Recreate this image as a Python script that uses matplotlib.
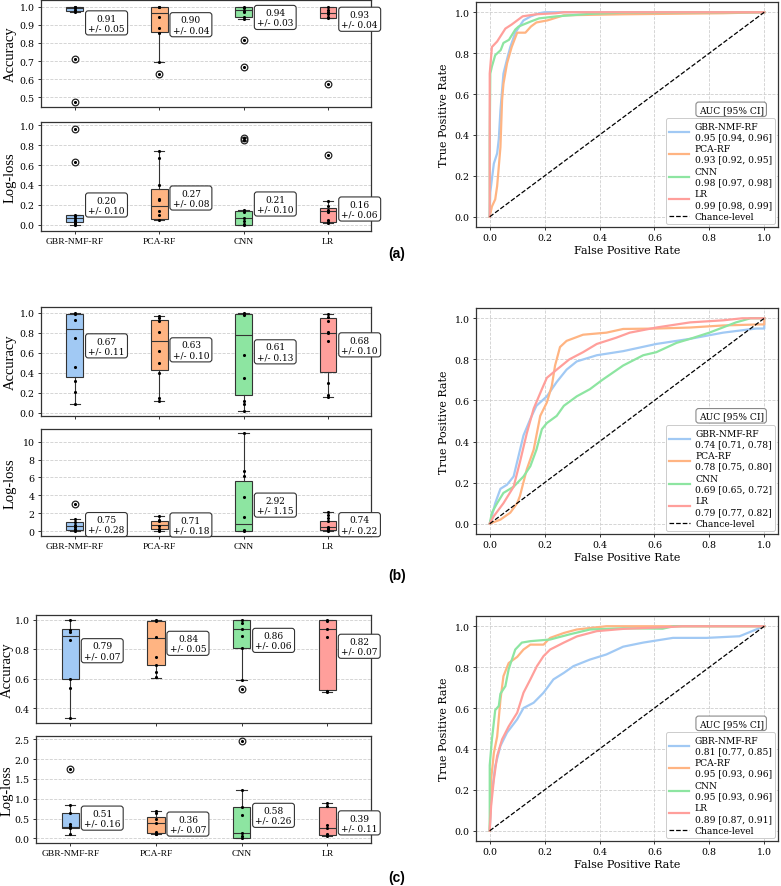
import matplotlib
matplotlib.use('Agg')
import matplotlib.pyplot as plt
from matplotlib.lines import Line2D
from matplotlib.transforms import blended_transform_factory

plt.rcParams['font.family'] = 'DejaVu Serif'

models = ['GBR-NMF-RF', 'PCA-RF', 'CNN', 'LR']
colors = ['#a1c9f4', '#ffb482', '#8de5a1', '#ff9f9b']
tags = ['(a)', '(b)', '(c)']

# box stats per model: (whislo, q1, med, q3, whishi)
acc_a_box = [(0.97, 0.975, 0.99, 1.0, 1.0), (0.697, 0.86, 0.967, 0.997, 1.0),
             (0.933, 0.94, 0.98, 0.995, 1.0), (0.935, 0.937, 0.964, 1.0, 1.0)]
acc_a_fliers = [[0.71, 0.475], [0.628], [0.818, 0.667], [0.571]]
acc_a_pts = [[1.0, 1.0, 0.99, 0.98, 0.97], [1.0, 0.995, 0.945, 0.88, 0.855, 0.697],
             [1.0, 0.99, 0.975, 0.97, 0.94, 0.933], [1.0, 0.98, 0.97, 0.96, 0.94, 0.935]]
acc_a_mean = [0.91, 0.90, 0.94, 0.93]
acc_a_sd = [0.05, 0.04, 0.03, 0.04]

loss_a_box = [(0.0, 0.03, 0.066, 0.105, 0.105), (0.05, 0.063, 0.195, 0.364, 0.745),
              (0.0, 0.0, 0.066, 0.139, 0.15), (0.023, 0.03, 0.136, 0.172, 0.242)]
loss_a_fliers = [[0.96, 0.63], [], [0.875, 0.855], [0.70]]
loss_a_pts = [[0.105, 0.09, 0.07, 0.05, 0.04, 0.02, 0.01, 0.0],
              [0.745, 0.67, 0.40, 0.26, 0.25, 0.14, 0.10, 0.05],
              [0.15, 0.13, 0.07, 0.04, 0.01, 0.0],
              [0.242, 0.19, 0.15, 0.13, 0.05, 0.03, 0.023]]
loss_a_mean = [0.20, 0.27, 0.21, 0.16]
loss_a_sd = [0.10, 0.08, 0.10, 0.06]

acc_b_box = [(0.09, 0.354, 0.842, 0.987, 1.0), (0.114, 0.424, 0.714, 0.933, 0.97),
             (0.017, 0.175, 0.78, 0.99, 1.0), (0.158, 0.404, 0.80, 0.95, 0.987)]
acc_b_fliers = [[], [], [], []]
acc_b_pts = [[1.0, 0.99, 0.93, 0.745, 0.46, 0.32, 0.21, 0.09],
             [0.97, 0.95, 0.92, 0.81, 0.62, 0.50, 0.40, 0.15, 0.114],
             [1.0, 0.98, 0.58, 0.345, 0.12, 0.09, 0.017],
             [0.987, 0.96, 0.92, 0.81, 0.80, 0.72, 0.30, 0.18, 0.158]]
acc_b_mean = [0.67, 0.63, 0.61, 0.68]
acc_b_sd = [0.11, 0.10, 0.13, 0.10]

loss_b_box = [(0.04, 0.19, 0.56, 1.04, 1.33), (0.04, 0.22, 0.67, 1.15, 1.67),
              (0.0, 0.0, 0.78, 5.59, 10.9), (0.04, 0.19, 0.45, 1.15, 2.2)]
loss_b_fliers = [[3.1], [], [], []]
loss_b_pts = [[1.33, 1.0, 0.7, 0.5, 0.3, 0.2, 0.04],
              [1.67, 1.3, 1.1, 0.6, 0.3, 0.1, 0.04],
              [10.9, 6.7, 6.2, 3.8, 1.6, 0.1, 0.0],
              [2.2, 1.8, 1.5, 1.1, 0.5, 0.4, 0.3, 0.1, 0.04]]
loss_b_mean = [0.75, 0.71, 2.92, 0.74]
loss_b_sd = [0.28, 0.18, 1.15, 0.22]

acc_c_box = [(0.337, 0.596, 0.887, 0.935, 1.0), (0.607, 0.69, 0.876, 0.993, 1.0),
             (0.59, 0.81, 0.937, 0.995, 1.0), (0.508, 0.522, 0.937, 0.995, 1.0)]
acc_c_fliers = [[], [], [0.53], []]
acc_c_pts = [[1.0, 0.93, 0.92, 0.86, 0.60, 0.535, 0.337],
             [1.0, 0.99, 0.88, 0.75, 0.69, 0.645, 0.61],
             [1.0, 0.98, 0.94, 0.89, 0.81, 0.59],
             [1.0, 0.99, 0.94, 0.885, 0.52, 0.51]]
acc_c_mean = [0.79, 0.84, 0.86, 0.82]
acc_c_sd = [0.07, 0.05, 0.06, 0.07]

loss_c_box = [(0.09, 0.25, 0.275, 0.65, 0.85), (0.11, 0.14, 0.39, 0.55, 0.69),
              (0.0, 0.0, 0.125, 0.78, 1.22), (0.07, 0.09, 0.26, 0.79, 0.90)]
loss_c_fliers = [[1.75], [], [2.45], []]
loss_c_pts = [[0.85, 0.65, 0.35, 0.30, 0.25, 0.10],
              [0.69, 0.65, 0.48, 0.38, 0.15, 0.12, 0.11],
              [1.22, 0.80, 0.59, 0.13, 0.05, 0.0],
              [0.90, 0.82, 0.33, 0.27, 0.10, 0.07]]
loss_c_mean = [0.51, 0.36, 0.58, 0.39]
loss_c_sd = [0.16, 0.07, 0.26, 0.11]

# ROC curves, (fpr, tpr) points
roc_a_gbr = [(0, 0), (0.002, 0.12), (0.015, 0.26), (0.027, 0.31), (0.033, 0.38), (0.039, 0.52),
             (0.05, 0.70), (0.063, 0.77), (0.075, 0.83), (0.093, 0.90), (0.123, 0.96),
             (0.15, 0.98), (0.18, 0.995), (0.2, 1.0), (1, 1)]
roc_a_pca = [(0, 0), (0.008, 0.05), (0.02, 0.085), (0.027, 0.15), (0.039, 0.34), (0.045, 0.57),
             (0.05, 0.65), (0.063, 0.75), (0.08, 0.83), (0.10, 0.90), (0.13, 0.90), (0.15, 0.93),
             (0.17, 0.95), (0.21, 0.96), (0.27, 0.985), (0.49, 0.99), (0.85, 0.995), (1, 1)]
roc_a_cnn = [(0, 0), (0, 0.38), (0.002, 0.70), (0.008, 0.735), (0.02, 0.79), (0.04, 0.815),
             (0.05, 0.85), (0.07, 0.865), (0.093, 0.915), (0.105, 0.93), (0.15, 0.955),
             (0.18, 0.97), (0.245, 0.98), (0.365, 0.992), (0.49, 0.998), (1, 1)]
roc_a_lr = [(0, 0), (0, 0.70), (0.008, 0.83), (0.027, 0.857), (0.057, 0.92), (0.08, 0.94),
            (0.11, 0.97), (0.12, 0.98), (0.17, 0.99), (0.24, 0.995), (0.27, 1.0), (1, 1)]

roc_b_gbr = [(0, 0), (0.008, 0.037), (0.02, 0.10), (0.039, 0.17), (0.063, 0.19), (0.087, 0.23),
             (0.105, 0.33), (0.123, 0.43), (0.148, 0.51), (0.17, 0.574), (0.208, 0.62),
             (0.244, 0.69), (0.28, 0.75), (0.317, 0.79), (0.39, 0.82), (0.486, 0.84),
             (0.607, 0.875), (0.73, 0.90), (0.85, 0.93), (0.97, 0.95), (1.0, 0.95), (1, 1)]
roc_b_pca = [(0, 0), (0.039, 0.02), (0.075, 0.054), (0.10, 0.10), (0.11, 0.135), (0.135, 0.265),
             (0.16, 0.36), (0.184, 0.525), (0.208, 0.59), (0.226, 0.67), (0.238, 0.77),
             (0.256, 0.86), (0.28, 0.89), (0.34, 0.92), (0.425, 0.93), (0.486, 0.948),
             (0.607, 0.95), (0.73, 0.955), (0.85, 0.965), (0.98, 0.97), (1.0, 0.97), (1, 1)]
roc_b_cnn = [(0, 0), (0.008, 0.054), (0.027, 0.10), (0.05, 0.15), (0.087, 0.18), (0.123, 0.23),
             (0.148, 0.28), (0.17, 0.36), (0.19, 0.46), (0.208, 0.49), (0.244, 0.525),
             (0.27, 0.574), (0.317, 0.62), (0.365, 0.655), (0.41, 0.70), (0.486, 0.77),
             (0.559, 0.82), (0.607, 0.835), (0.68, 0.88), (0.73, 0.90), (0.80, 0.93),
             (0.897, 0.98), (0.95, 1.0), (1, 1)]
roc_b_lr = [(0, 0), (0.015, 0.037), (0.05, 0.10), (0.087, 0.18), (0.11, 0.30), (0.135, 0.44),
            (0.16, 0.56), (0.19, 0.655), (0.208, 0.71), (0.244, 0.75), (0.29, 0.80),
            (0.34, 0.835), (0.39, 0.875), (0.46, 0.905), (0.51, 0.93), (0.607, 0.955),
            (0.73, 0.98), (0.85, 0.99), (0.92, 1.0), (1, 1)]

roc_c_gbr = [(0, 0), (0.005, 0.154), (0.02, 0.317), (0.039, 0.415), (0.063, 0.48), (0.1, 0.545),
             (0.123, 0.60), (0.16, 0.626), (0.196, 0.675), (0.232, 0.74), (0.27, 0.772),
             (0.305, 0.805), (0.365, 0.837), (0.425, 0.862), (0.486, 0.90), (0.559, 0.92),
             (0.667, 0.943), (0.79, 0.943), (0.91, 0.951), (0.97, 0.984), (1, 1)]
roc_c_pca = [(0, 0), (0.005, 0.25), (0.015, 0.38), (0.027, 0.46), (0.039, 0.64), (0.05, 0.756),
             (0.069, 0.82), (0.1, 0.85), (0.123, 0.886), (0.148, 0.91), (0.196, 0.91),
             (0.22, 0.943), (0.27, 0.967), (0.317, 0.984), (0.425, 1.0), (1, 1)]
roc_c_cnn = [(0, 0), (0, 0.32), (0.008, 0.447), (0.02, 0.59), (0.033, 0.61), (0.039, 0.67),
             (0.057, 0.707), (0.069, 0.79), (0.093, 0.886), (0.117, 0.92), (0.148, 0.927),
             (0.22, 0.935), (0.29, 0.96), (0.365, 0.984), (0.486, 0.99), (0.63, 0.988),
             (0.67, 1.0), (1, 1)]
roc_c_lr = [(0, 0), (0.005, 0.12), (0.015, 0.25), (0.027, 0.366), (0.045, 0.447), (0.069, 0.51),
            (0.1, 0.577), (0.123, 0.675), (0.148, 0.74), (0.172, 0.805), (0.196, 0.854),
            (0.22, 0.886), (0.27, 0.92), (0.317, 0.95), (0.39, 0.976), (0.486, 0.987),
            (0.667, 0.997), (0.7, 1.0), (1, 1)]

auc_a = ['0.95 [0.94, 0.96]', '0.93 [0.92, 0.95]', '0.98 [0.97, 0.98]', '0.99 [0.98, 0.99]']
auc_b = ['0.74 [0.71, 0.78]', '0.78 [0.75, 0.80]', '0.69 [0.65, 0.72]', '0.79 [0.77, 0.82]']
auc_c = ['0.81 [0.77, 0.85]', '0.95 [0.93, 0.96]', '0.95 [0.93, 0.96]', '0.89 [0.87, 0.91]']

# layout in pixels (figure 781 x 887)
W, H = 781, 887
box_left = [41, 41, 36]
box_right = 371
ylab_x = [17, 17, 14]
acc_top, acc_bot = [1, 308, 616], [108, 417, 724]
loss_top, loss_bot = [123, 430, 737], [232, 537, 844]
roc_left, roc_right = 476, 778
roc_top, roc_bot = [3, 309, 617], [228, 535, 842]
tag_y = [254, 576, 878]

acc_lim = [(0.447, 1.036), (-0.034, 1.06), (0.30, 1.032)]
acc_ticks = [[0.5, 0.6, 0.7, 0.8, 0.9, 1.0], [0, 0.2, 0.4, 0.6, 0.8, 1.0], [0.4, 0.6, 0.8, 1.0]]
loss_lim = [(-0.06, 1.03), (-0.52, 11.4), (-0.117, 2.58)]
loss_ticks = [[0, 0.2, 0.4, 0.6, 0.8, 1.0], [0, 2, 4, 6, 8, 10], [0, 0.5, 1.0, 1.5, 2.0, 2.5]]

EDGE = '#333333'
GRID = '#cfcfcf'


def px_axes(fig, l, r, t, b):
    return fig.add_axes([l / W, 1 - b / H, (r - l) / W, (b - t) / H])


def style(ax):
    for s in ax.spines.values():
        s.set_color(EDGE)
        s.set_linewidth(0.9)
    ax.tick_params(labelsize=6.8, length=2.5, width=0.7, color=EDGE, pad=2)
    ax.set_axisbelow(True)


def box_panel(ax, box, fliers, pts, mean, sd, ylim, yticks, ylabel, show_names, lab_x):
    stats = [dict(whislo=b[0], q1=b[1], med=b[2], q3=b[3], whishi=b[4], fliers=f)
             for b, f in zip(box, fliers)]
    res = ax.bxp(stats, positions=range(4), widths=0.2, patch_artist=True, capwidths=0.12,
                 boxprops=dict(edgecolor=EDGE, linewidth=0.8),
                 medianprops=dict(color=EDGE, linewidth=0.8),
                 whiskerprops=dict(color=EDGE, linewidth=0.8),
                 capprops=dict(color=EDGE, linewidth=0.8),
                 flierprops=dict(marker='o', mfc='none', mec='#222222', ms=4.8, mew=0.9))
    for patch, c in zip(res['boxes'], colors):
        patch.set_facecolor(c)
    for i in range(4):
        vals = pts[i] + fliers[i]
        ax.scatter([i] * len(vals), vals, s=5, c='k', zorder=3, linewidths=0)
        ax.text(i + 0.16, mean[i], f'{mean[i]:.2f}\n+/- {sd[i]:.2f}', ha='left', va='center',
                multialignment='center', fontsize=6.5, zorder=4, linespacing=1.1,
                bbox=dict(boxstyle='round,pad=0.3', fc='white', ec=EDGE, lw=0.8))
    ax.set_xlim(-0.40, 3.51)
    ax.set_ylim(*ylim)
    ax.set_yticks(yticks)
    ax.yaxis.grid(True, ls='--', color=GRID, lw=0.6)
    ax.set_xticks(range(4))
    if show_names:
        ax.set_xticklabels(models, family='Liberation Serif', fontsize=7)
    else:
        ax.set_xticklabels([])
    ax.set_ylabel(ylabel, family='Liberation Serif', fontsize=10.5)
    trans = blended_transform_factory(ax.figure.transFigure, ax.transAxes)
    ax.yaxis.set_label_coords(lab_x / W, 0.5, transform=trans)
    style(ax)


def roc_panel(ax, curves, aucs):
    handles = []
    for pts, c, name, auc in zip(curves, colors, models, aucs):
        ax.plot([p[0] for p in pts], [p[1] for p in pts], color=c, lw=1.6)
        handles.append(Line2D([], [], color=c, lw=1.6, label=f'{name}\n{auc}'))
    ax.plot([0, 1], [0, 1], 'k--', lw=0.9)
    handles.append(Line2D([], [], color='k', ls='--', lw=0.9, label='Chance-level'))
    ax.set_xlim(-0.05, 1.05)
    ax.set_ylim(-0.05, 1.05)
    ticks = [0, 0.2, 0.4, 0.6, 0.8, 1.0]
    ax.set_xticks(ticks)
    ax.set_yticks(ticks)
    ax.grid(True, ls='--', color=GRID, lw=0.6)
    ax.set_xlabel('False Positive Rate', fontsize=8, labelpad=2)
    ax.set_ylabel('True Positive Rate', fontsize=8, labelpad=4)
    leg = ax.legend(handles=handles, loc='lower right', fontsize=6.6, handlelength=2.2,
                    labelspacing=0.35, borderpad=0.35, handletextpad=0.6,
                    borderaxespad=0.3, fancybox=True, framealpha=1)
    leg.get_frame().set_edgecolor('#cccccc')
    leg.get_frame().set_linewidth(0.7)
    ax.text(0.845, 0.523, 'AUC [95% CI]', transform=ax.transAxes, ha='center', va='center',
            fontsize=6.6, bbox=dict(boxstyle='round,pad=0.3', fc='white', ec='#8a8a8a', lw=0.8))
    style(ax)


fig = plt.figure(figsize=(W / 100, H / 100), dpi=100)

acc_sets = [(acc_a_box, acc_a_fliers, acc_a_pts, acc_a_mean, acc_a_sd),
            (acc_b_box, acc_b_fliers, acc_b_pts, acc_b_mean, acc_b_sd),
            (acc_c_box, acc_c_fliers, acc_c_pts, acc_c_mean, acc_c_sd)]
loss_sets = [(loss_a_box, loss_a_fliers, loss_a_pts, loss_a_mean, loss_a_sd),
             (loss_b_box, loss_b_fliers, loss_b_pts, loss_b_mean, loss_b_sd),
             (loss_c_box, loss_c_fliers, loss_c_pts, loss_c_mean, loss_c_sd)]
roc_sets = [[roc_a_gbr, roc_a_pca, roc_a_cnn, roc_a_lr],
            [roc_b_gbr, roc_b_pca, roc_b_cnn, roc_b_lr],
            [roc_c_gbr, roc_c_pca, roc_c_cnn, roc_c_lr]]
auc_sets = [auc_a, auc_b, auc_c]

for r in range(3):
    ax1 = px_axes(fig, box_left[r], box_right, acc_top[r], acc_bot[r])
    box_panel(ax1, *acc_sets[r], acc_lim[r], acc_ticks[r], 'Accuracy', False, ylab_x[r])
    ax2 = px_axes(fig, box_left[r], box_right, loss_top[r], loss_bot[r])
    box_panel(ax2, *loss_sets[r], loss_lim[r], loss_ticks[r], 'Log-loss', True, ylab_x[r])
    ax3 = px_axes(fig, roc_left, roc_right, roc_top[r], roc_bot[r])
    roc_panel(ax3, roc_sets[r], auc_sets[r])
    fig.text(397 / W, 1 - tag_y[r] / H, tags[r], family='Liberation Sans', weight='bold',
             fontsize=10, ha='center', va='center')

fig.savefig('out.png', dpi=100)
